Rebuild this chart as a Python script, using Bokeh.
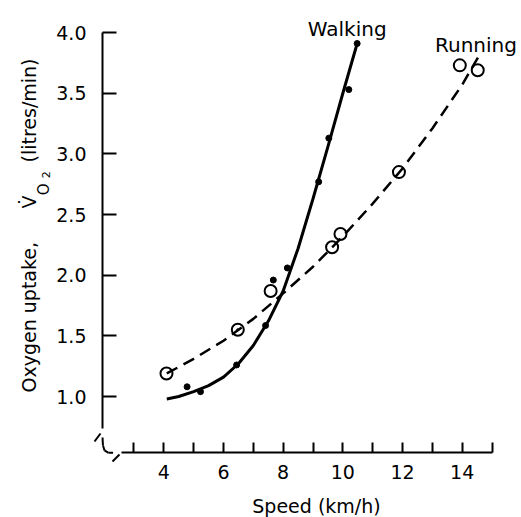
import math
from bokeh.plotting import figure
from bokeh.models import (Range1d, FixedTicker, Label, PolyAnnotation,
                          PrintfTickFormatter, ColumnDataSource)
from bokeh.embed import file_html
from bokeh.resources import INLINE

# ---------------- data ----------------
# Walking (solid fitted curve + filled points)
walk_curve_x = [4.1, 4.5, 5.0, 5.5, 6.0, 6.5, 7.0, 7.5, 8.0, 8.5, 9.0, 9.5, 10.0, 10.48]
walk_curve_y = [0.98, 1.00, 1.04, 1.09, 1.16, 1.27, 1.42, 1.62, 1.87, 2.22, 2.63, 3.06, 3.50, 3.91]
walk_x = [4.78, 5.23, 6.44, 7.41, 7.67, 8.14, 9.19, 9.53, 10.2, 10.48]
walk_y = [1.08, 1.04, 1.26, 1.585, 1.96, 2.06, 2.77, 3.13, 3.53, 3.91]

# Running (dashed fitted curve + open points)
run_curve_x = [4.1, 5.0, 6.0, 7.0, 8.0, 9.0, 10.0, 11.0, 12.0, 13.0, 14.0, 14.61]
run_curve_y = [1.19, 1.31, 1.46, 1.64, 1.85, 2.07, 2.32, 2.59, 2.88, 3.21, 3.57, 3.83]
run_x = [4.09, 6.48, 7.58, 9.64, 9.92, 11.88, 13.92, 14.52]
run_y = [1.19, 1.55, 1.87, 2.23, 2.34, 2.85, 3.73, 3.69]
run_marker = ["circle", "circle_dot", "circle", "circle", "circle", "circle", "circle", "circle"]

# axes
x_major_ticks = [4, 6, 8, 10, 12, 14]
x_minor_ticks = [3, 5, 7, 9, 11, 13, 15]
y_major_ticks = [1.0, 1.5, 2.0, 2.5, 3.0, 3.5, 4.0]
x_title = "Speed (km/h)"
y_title_main = "Oxygen uptake,"
y_title_v = "V\u0307"
y_title_sub = "O"
y_title_subsub = "2"
y_title_unit = "(litres/min)"
series_names = ["Walking", "Running"]

FONT = "DejaVu Sans"

# ---------------- figure (frame spans whole canvas) ----------------
X0, X1 = -1.4726, 15.987
Y0, Y1 = 0.0025, 4.2647
Y_AXIS_AT = 1.946     # x value where the vertical axis sits
X_AXIS_AT = 0.538     # y value where the horizontal axis sits

p = figure(width=521, height=517, output_backend="svg", toolbar_location=None,
           x_range=Range1d(X0, X1), y_range=Range1d(Y0, Y1),
           min_border=0, min_border_left=0, min_border_right=0,
           min_border_top=0, min_border_bottom=0)
p.xgrid.visible = False
p.ygrid.visible = False
p.outline_line_color = None
p.background_fill_color = "white"
p.border_fill_color = "white"

xa = p.xaxis[0]
xa.fixed_location = X_AXIS_AT
xa.ticker = FixedTicker(ticks=x_major_ticks, minor_ticks=x_minor_ticks)
xa.bounds = (2.58, 15.0)
xa.axis_line_width = 2
xa.axis_line_color = "black"
xa.major_tick_line_width = 2
xa.minor_tick_line_width = 2
xa.major_tick_line_color = "black"
xa.minor_tick_line_color = "black"
xa.major_tick_in = 10
xa.major_tick_out = 0
xa.minor_tick_in = 10
xa.minor_tick_out = 0
xa.major_label_standoff = 12
xa.major_label_text_font = FONT
xa.major_label_text_font_size = "19px"
xa.major_label_text_color = "black"

ya = p.yaxis[0]
ya.fixed_location = Y_AXIS_AT
ya.ticker = FixedTicker(ticks=y_major_ticks, minor_ticks=[])
ya.formatter = PrintfTickFormatter(format="%.1f")
ya.bounds = (0.736, 4.0)
ya.axis_line_width = 2
ya.axis_line_color = "black"
ya.major_tick_line_width = 2
ya.major_tick_line_color = "black"
ya.major_tick_in = 14
ya.major_tick_out = 0
ya.minor_tick_in = 0
ya.minor_tick_out = 0
ya.major_label_standoff = 16
ya.major_label_text_font = FONT
ya.major_label_text_font_size = "19px"
ya.major_label_text_color = "black"

# ---------------- curves and points ----------------
p.line(walk_curve_x, walk_curve_y, line_color="black", line_width=3)
p.line(run_curve_x, run_curve_y, line_color="black", line_width=2.5, line_dash="12 7")
p.scatter(walk_x, walk_y, marker="circle", size=6, fill_color="black", line_color="black")
src = ColumnDataSource(dict(x=run_x, y=run_y, m=run_marker))
p.scatter("x", "y", marker="m", source=src, size=12, fill_color=None,
          line_color="black", line_width=2)

# ---------------- axis break decoration ----------------
break_segments = [
    ([1.678, 1.879], [0.629, 0.695]),
    ([1.946, 1.962], [0.662, 0.596]),
    ([1.962, 2.013], [0.596, 0.555]),
    ([2.013, 2.147], [0.555, 0.536]),
    ([2.147, 2.30], [0.536, 0.536]),
    ([2.281, 2.515], [0.464, 0.522]),
]
for bx, by in break_segments:
    p.add_layout(PolyAnnotation(xs=bx, ys=by, line_color="black", line_width=2,
                                line_alpha=1.0, fill_alpha=0, fill_color=None))

# ---------------- texts ----------------
def lab(x, y, text, size, angle=0.0, align="left"):
    p.add_layout(Label(x=x, y=y, text=text, text_font=FONT, text_font_size=size,
                       text_color="black", angle=angle, text_align=align,
                       text_baseline="alphabetic"))

lab(10.146, 4.03, series_names[0], "20px", align="center")
lab(14.462, 3.894, series_names[1], "20px", align="center")
lab(9.117, 0.10, x_title, "19px", align="center")

A = math.pi / 2
lab(-0.534, 1.033, y_title_main, "19px", angle=A)
lab(-0.534, 2.550, y_title_v, "19px", angle=A)
lab(-0.031, 2.660, y_title_sub, "15px", angle=A)
lab(0.036, 2.800, y_title_subsub, "11px", angle=A)
lab(-0.534, 2.929, y_title_unit, "19px", angle=A)

open("out.html", "w").write(file_html(p, INLINE))
